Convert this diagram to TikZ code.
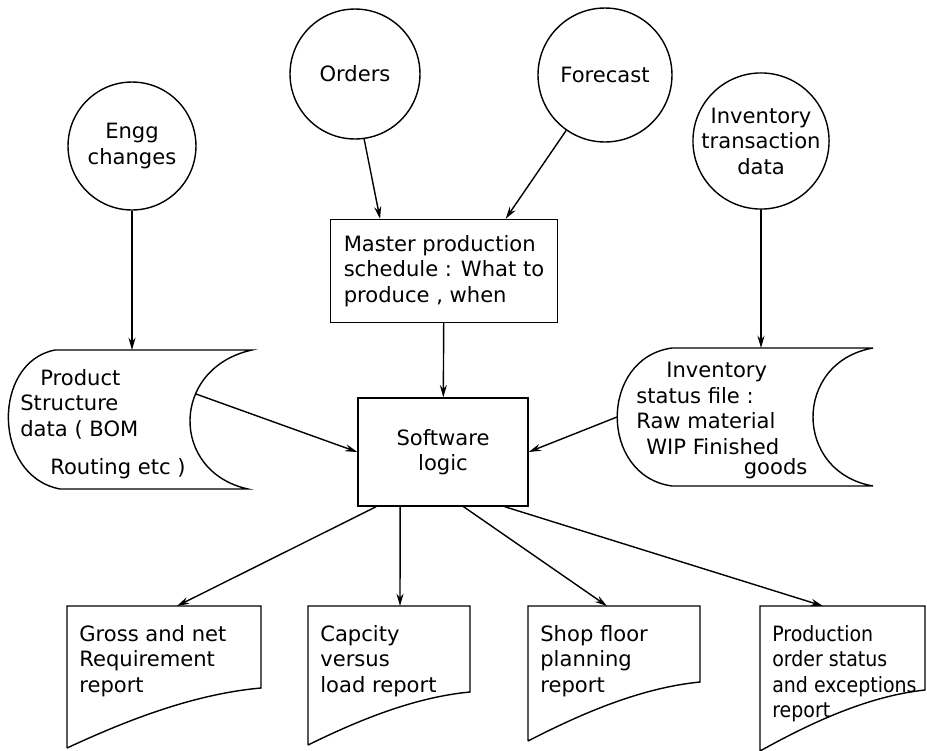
\documentclass[tikz,border=0pt]{standalone}
\usepackage{fontspec}
\setmainfont{DejaVu Sans}
\newfontfamily\narrowfont{DejaVu Sans Condensed}
\usetikzlibrary{arrows.meta,calc}

\begin{document}
\begin{tikzpicture}[x=0.02cm,y=-0.02cm,
    every node/.style={font=\fontsize{12}{14.5}\selectfont},
    flow/.style={-{Stealth[length=7pt,width=4pt]}, line width=0.8pt},
    source/.style={draw, circle, line width=0.8pt, inner sep=0pt, align=center},
    proc/.style={draw, rectangle, line width=0.8pt, inner sep=0pt},
    outline/.style={line width=0.8pt},
    reptext/.style={anchor=north west, inner sep=0pt, align=left},
    reptight/.style={reptext, font=\narrowfont\fontsize{12}{14.5}\selectfont}]
    \def\ytop{606}   % haut des rapports

    \useasboundingbox (0,0) rectangle (927,751);

    % Sources de donnees (cercles)
    \node[source, minimum size=2.56cm] (engg) at (132,146) {Engg\\changes};
    \node[source, minimum size=2.6cm] (orders) at (355,74) {Orders};
    \node[source, minimum size=2.68cm] (forecast) at (605,75) {Forecast};
    \node[source, minimum size=2.72cm] (invtr) at (761,141) {Inventory\\transaction\\data};

    % Plan directeur et logique
    \node[proc, minimum width=4.54cm, minimum height=2.06cm, align=left] (mps) at (444,271)
        {Master production\\schedule : What to\\produce , when};
    \node[proc, minimum width=3.4cm, minimum height=2.16cm, align=center] (sw) at (443,452)
        {Software\\logic};

    % Fichier produit (gauche)
    \draw[outline] (55,350) -- (252,350) .. controls (170,368) and (170,472) .. (248,489)
        -- (60,489) .. controls (-8,476) and (-8,362) .. (55,350);
    \coordinate (prodtop) at (132,350);
    \coordinate (prodout) at (196,394);
    \node[reptext] (prodtxt) at (20,369)
        {\hspace*{0.4cm}Product\\Structure\\data ( BOM\\[0.25cm]\hspace*{0.6cm}Routing etc )};

    % Fichier stock (droite)
    \draw[outline] (672,348) -- (873,348) .. controls (793,362) and (793,472) .. (873,486)
        -- (672,486) .. controls (599,476) and (599,358) .. (672,348);
    \coordinate (invftop) at (761,348);
    \coordinate (invfout) at (617,417);
    \node[reptext] (invftxt) at (636,362)
        {\hspace*{0.6cm}Inventory\\status file :\\Raw material\\\hspace*{0.2cm}WIP Finished\\[-3pt]\hspace*{2.15cm}goods};

    % Fleches d'entree
    \draw[flow] (engg) -- (prodtop);
    \draw[flow] (invtr) -- (invftop);
    \draw[flow] (orders.-82) -- ($(mps.north west)!0.22!(mps.north east)$);
    \draw[flow] (forecast.-125) -- ($(mps.north west)!0.77!(mps.north east)$);
    \draw[flow] (mps) -- (sw);
    \draw[flow] (prodout) -- (sw.west);
    \draw[flow] (invfout) -- (sw.east);

    % Rapports en sortie
    \foreach \nm/\xl/\xr/\yr/\yl/\xa/\fr/\st/\txt in {
        gross/67/261/688/748/177/0.11/reptext/{Gross and net\\Requirement\\report},
        capa/308/470/692/745/400/0.25/reptext/{Capcity\\versus\\load report},
        shop/528/700/682/741/607/0.62/reptext/{Shop floor\\planning\\report},
        prodord/760/925/690/751/823/0.86/reptight/{Production\\order status\\and exceptions\\report}} {
        \pgfmathsetmacro\rw{\xr-\xl}
        \pgfmathsetmacro\rh{\yl-\yr}
        \draw[outline] (\xl,\yl) -- (\xl,\ytop) -- (\xr,\ytop) -- (\xr,\yr)
            .. controls +(-0.35*\rw,0.1*\rh) and +(0.3*\rw,-0.45*\rh) .. (\xl,\yl);
        \node[\st] (\nm) at (\xl+12,625) {\txt};
        \coordinate (\nm-in) at (\xa,\ytop);
        \draw[flow] ($(sw.south west)!\fr!(sw.south east)$) -- (\nm-in);
    }
\end{tikzpicture}
\end{document}
